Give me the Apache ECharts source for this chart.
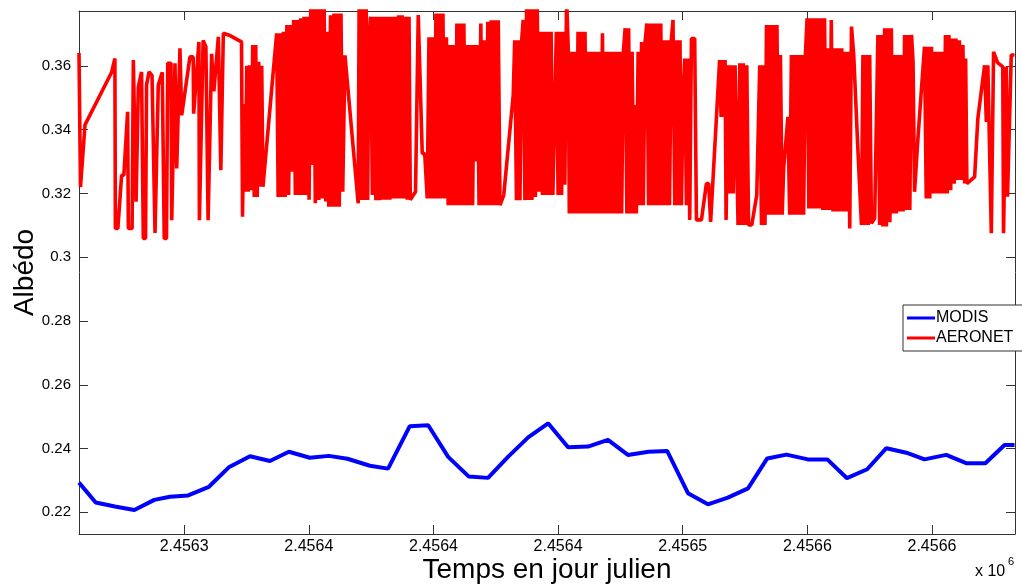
<!DOCTYPE html>
<html>
<head>
<meta charset="utf-8">
<script src="https://cdn.jsdelivr.net/npm/echarts@6/dist/echarts.min.js"></script>
<style>
html,body{margin:0;padding:0;background:#fff;}
#chart{width:1022px;height:586px;}
</style>
</head>
<body>
<div id="chart"></div>
<script>
// ---- Data: days are Julian day minus JD0 ----
const JD0 = 2456000;

const modisDays = [257.8,264.5,272.2,280.0,288.0,294.3,301.6,309.9,317.9,326.4,334.4,342.0,350.4,358.0,365.5,374.5,381.8,390.5,397.9,405.9,414.2,421.9,429.9,438.0,446.0,454.0,462.0,470.0,478.0,486.3,493.8,502.1,510.1,518.1,526.2,533.9,541.6,550.2,558.0,565.9,574.0,581.7,589.7,597.0,605.7,613.7,621.4,629.1,633.1];
const modisAlbedo = [0.2293,0.2231,0.2218,0.2207,0.2239,0.2249,0.2253,0.2280,0.2341,0.2376,0.2361,0.2390,0.2371,0.2377,0.2368,0.2346,0.2337,0.2470,0.2473,0.2374,0.2312,0.2308,0.2374,0.2435,0.2479,0.2404,0.2406,0.2427,0.2380,0.2390,0.2392,0.2260,0.2225,0.2246,0.2275,0.2369,0.2381,0.2366,0.2366,0.2307,0.2335,0.2401,0.2387,0.2366,0.2380,0.2354,0.2354,0.2411,0.2411];

const aeronetDays = [
257.8,258.4,260.2,270.9,272.2,272.4,273.4,274.9,275.8,277.3,277.6,279.1,279.6,280.7,281.6,282.9,283.6,284.5,284.9,285.9,287.1,288.3,289.1,289.6,291.2,292.0,292.9,293.4,294.7,295.0,296.3,297.0,298.3,299.0,302.3,303.6,303.8,305.9,306.1,307.6,308.7,309.6,311.0,311.9,313.7,314.7,315.7,318.4,323.0,
323.4,324.0,324.5,325.1,325.7,326.3,326.9,327.5,328.1,328.7,329.3,329.9,330.5,331.1,331.6,
337.1,337.7,338.4,339.1,339.8,340.5,341.2,341.9,342.6,343.2,343.9,344.6,345.3,346.0,346.7,347.4,348.1,348.8,349.5,350.1,350.8,351.4,352.0,352.6,353.3,354.0,354.7,355.4,356.1,356.8,357.3,358.0,358.7,359.4,360.1,360.8,361.5,362.2,362.9,363.6,364.5,
369.8,370.2,370.9,371.6,372.3,373.0,373.6,374.1,374.8,375.5,376.2,376.9,377.6,378.3,379.0,379.7,380.4,381.1,381.8,382.5,383.2,383.9,384.6,385.3,386.0,386.7,387.4,388.1,388.8,389.5,390.2,390.7,392.8,393.9,395.5,396.5,397.5,
398.2,398.9,399.6,400.3,401.0,401.7,402.4,403.1,403.8,404.5,405.2,405.9,406.6,407.3,408.0,408.7,409.4,410.1,410.8,411.5,412.2,412.9,413.6,414.3,415.0,415.7,416.4,417.1,417.6,418.3,419.0,419.7,420.4,421.1,421.8,422.5,423.2,423.9,424.6,425.3,426.0,426.7,427.3,428.2,432.0,432.6,
433.3,434.0,434.7,435.4,436.0,436.7,437.4,438.1,438.8,439.5,440.2,440.9,441.6,442.3,443.0,443.7,444.4,445.1,445.8,446.5,447.2,447.9,448.6,449.3,450.0,450.7,451.4,452.1,452.7,453.4,454.1,454.5,
455.2,455.9,456.6,457.3,458.0,458.7,459.4,460.1,460.8,461.5,462.2,462.9,463.6,464.3,465.0,465.7,466.4,467.1,467.8,468.5,469.2,469.9,470.6,471.3,472.0,472.7,473.4,474.1,474.8,475.5,476.2,476.9,477.6,478.3,479.0,479.7,480.4,480.8,481.4,
482.1,482.8,483.5,484.2,484.9,485.6,486.3,487.0,487.7,488.4,489.1,489.8,490.5,491.2,491.9,492.6,493.3,494.0,494.7,495.4,496.1,496.8,497.5,498.2,498.9,499.5,500.1,500.8,501.5,502.2,502.8,503.5,504.1,504.8,505.5,507.5,509.5,510.4,511.2,
514.8,515.4,516.0,516.6,517.0,517.4,518.2,518.9,519.6,520.3,521.0,522.2,522.9,523.6,524.3,525.0,525.7,526.4,527.7,529.7,530.9,
531.6,532.3,533.0,533.6,534.3,535.0,535.7,536.4,537.1,537.8,538.5,539.2,539.9,540.5,542.2,542.9,543.6,544.3,545.0,545.7,546.4,547.1,547.8,548.5,549.2,549.9,550.6,551.3,552.0,552.7,553.4,554.1,554.8,555.5,556.2,556.9,557.6,558.3,559.0,559.6,560.3,561.0,561.7,562.4,563.1,563.8,564.5,565.2,565.9,566.4,567.0,567.7,
568.6,570.2,571.7,572.3,573.0,573.7,574.4,575.0,575.7,577.0,578.3,579.0,579.7,580.3,581.0,581.7,582.4,583.1,583.7,584.3,585.0,585.7,586.3,587.0,587.7,588.4,589.0,589.7,590.4,591.1,591.8,592.4,593.0,594.4,597.0,
597.7,598.4,599.1,599.8,600.5,601.2,601.9,602.6,603.3,604.0,604.7,605.4,606.1,606.8,607.5,608.2,608.9,609.6,610.3,611.0,611.7,612.4,613.1,613.5,614.0,617.1,618.4,621.1,621.8,622.4,623.8,624.7,626.3,628.4,628.7,629.8,630.3,631.8,633.1];
const aeronetAlbedo = [
0.3640,0.3220,0.3415,0.3580,0.3623,0.3090,0.3090,0.3257,0.3257,0.3456,0.3090,0.3090,0.3618,0.3174,0.3534,0.3581,0.3059,0.3059,0.3540,0.3581,0.3570,0.3076,0.3076,0.3540,0.3580,0.3059,0.3059,0.3608,0.3608,0.3116,0.3608,0.3278,0.3655,0.3445,0.3628,0.3628,0.3450,0.3675,0.3116,0.3680,0.3660,0.3116,0.3638,0.3520,0.3691,0.3273,0.3702,0.3695,0.3675,
0.3127,0.3480,0.3205,0.3600,0.3205,0.3602,0.3210,0.3665,0.3189,0.3665,0.3189,0.3613,0.3221,0.3600,0.3221,
0.3702,0.3189,0.3702,0.3189,0.3707,0.3189,0.3728,0.3195,0.3728,0.3268,0.3744,0.3195,0.3744,0.3195,0.3749,0.3195,0.3754,0.3195,0.3754,0.3180,0.3820,0.3289,0.3820,0.3169,0.3820,0.3179,0.3820,0.3184,0.3820,0.3175,0.3707,0.3158,0.3759,0.3158,0.3764,0.3158,0.3764,0.3158,0.3764,0.3205,0.3633,
0.3169,0.3820,0.3179,0.3820,0.3179,0.3820,0.3179,0.3680,0.3754,0.3195,0.3754,0.3179,0.3754,0.3179,0.3754,0.3180,0.3754,0.3180,0.3754,0.3180,0.3754,0.3184,0.3754,0.3184,0.3759,0.3184,0.3759,0.3184,0.3754,0.3180,0.3754,0.3180,0.3205,0.3759,0.3325,0.3325,0.3184,
0.3690,0.3184,0.3690,0.3184,0.3764,0.3184,0.3764,0.3184,0.3764,0.3184,0.3690,0.3163,0.3665,0.3163,0.3665,0.3163,0.3733,0.3163,0.3733,0.3163,0.3733,0.3163,0.3665,0.3163,0.3665,0.3163,0.3665,0.3300,0.3665,0.3163,0.3733,0.3163,0.3680,0.3163,0.3738,0.3163,0.3743,0.3163,0.3743,0.3163,0.3743,0.3163,0.3169,0.3195,0.3508,0.3680,
0.3179,0.3680,0.3179,0.3680,0.3744,0.3179,0.3820,0.3179,0.3820,0.3179,0.3820,0.3189,0.3820,0.3205,0.3707,0.3195,0.3707,0.3195,0.3707,0.3195,0.3707,0.3195,0.3189,0.3707,0.3195,0.3707,0.3195,0.3707,0.3227,0.3820,0.3644,0.3137,
0.3644,0.3137,0.3644,0.3137,0.3707,0.3137,0.3707,0.3137,0.3707,0.3137,0.3644,0.3137,0.3644,0.3137,0.3644,0.3137,0.3644,0.3137,0.3702,0.3137,0.3644,0.3137,0.3644,0.3137,0.3644,0.3137,0.3644,0.3137,0.3644,0.3137,0.3644,0.3718,0.3137,0.3718,0.3137,0.3644,0.3137,0.3477,0.3137,
0.3644,0.3163,0.3675,0.3163,0.3675,0.3733,0.3163,0.3733,0.3163,0.3733,0.3163,0.3733,0.3163,0.3733,0.3163,0.3680,0.3163,0.3680,0.3163,0.3680,0.3744,0.3163,0.3680,0.3163,0.3680,0.3163,0.3498,0.3623,0.3163,0.3623,0.3117,0.3686,0.3686,0.3686,0.3117,0.3117,0.3231,0.3231,0.3111,
0.3618,0.3440,0.3618,0.3440,0.3618,0.3117,0.3602,0.3200,0.3602,0.3200,0.3602,0.3101,0.3608,0.3101,0.3608,0.3101,0.3602,0.3101,0.3101,0.3195,0.3602,
0.3101,0.3602,0.3101,0.3728,0.3133,0.3728,0.3133,0.3728,0.3133,0.3728,0.3133,0.3634,0.3133,0.3280,0.3440,0.3133,0.3634,0.3133,0.3634,0.3133,0.3634,0.3133,0.3634,0.3133,0.3634,0.3749,0.3153,0.3749,0.3153,0.3749,0.3153,0.3749,0.3153,0.3749,0.3148,0.3749,0.3148,0.3655,0.3148,0.3744,0.3143,0.3655,0.3143,0.3655,0.3143,0.3655,0.3143,0.3644,0.3143,0.3644,0.3090,0.3723,
0.3634,0.3350,0.3101,0.3634,0.3101,0.3634,0.3101,0.3634,0.3106,0.3122,0.3697,0.3101,0.3697,0.3096,0.3718,0.3096,0.3718,0.3110,0.3718,0.3137,0.3634,0.3137,0.3634,0.3143,0.3634,0.3143,0.3697,0.3148,0.3697,0.3148,0.3697,0.3613,0.3205,0.3377,0.3660,
0.3184,0.3660,0.3184,0.3660,0.3200,0.3644,0.3200,0.3644,0.3200,0.3644,0.3200,0.3697,0.3200,0.3697,0.3210,0.3686,0.3230,0.3686,0.3242,0.3680,0.3242,0.3665,0.3231,0.3623,0.3231,0.3252,0.3435,0.3602,0.3424,0.3602,0.3075,0.3644,0.3610,0.3597,0.3075,0.3597,0.3190,0.3634,0.3634];

const xTickDays = [300,350,400,450,500,550,600];
const xTickLabels = ['2.4563','2.4564','2.4564','2.4564','2.4565','2.4566','2.4566'];
const yTickValues = [0.22,0.24,0.26,0.28,0.30,0.32,0.34,0.36];

const xMinDay = 257.8, xMaxDay = 633.3;
const yMin = 0.2132, yMax = 0.3772;

const FONT = 'Liberation Sans, Arial, Helvetica, sans-serif';
const AX = '#333333';

const xTickValues = xTickDays.map(d => JD0 + d);
const toSeries = (days, vals) => days.map((d, i) => [JD0 + d, vals[i]]);

const chart = echarts.init(document.getElementById('chart'), null, {renderer: 'canvas'});

const baseX = {
  type: 'value', min: JD0 + xMinDay, max: JD0 + xMaxDay,
  axisLine: {show: true, onZero: false, lineStyle: {color: AX, width: 1}},
  axisTick: {show: true, inside: true, length: 9, customValues: xTickValues, lineStyle: {color: AX}},
  splitLine: {show: false}
};
const baseY = {
  type: 'value', min: yMin, max: yMax,
  axisLine: {show: true, onZero: false, lineStyle: {color: AX, width: 1}},
  axisTick: {show: true, inside: true, length: 9, customValues: yTickValues, lineStyle: {color: AX}},
  splitLine: {show: false}
};

chart.setOption({
  animation: false,
  backgroundColor: '#ffffff',
  textStyle: {fontFamily: FONT},
  grid: {left: 79, right: 7, top: 11, bottom: 52, containLabel: false, outerBoundsMode: 'none'},
  xAxis: [
    Object.assign({}, baseX, {
      position: 'bottom',
      name: 'Temps en jour julien', nameLocation: 'middle', nameGap: 22, nameMoveOverlap: false,
      nameTextStyle: {fontSize: 28, color: '#000', fontFamily: FONT, verticalAlign: 'top'},
      axisLabel: {
        show: true, customValues: xTickValues, margin: 5,
        fontSize: 16, color: '#000', fontFamily: FONT,
        formatter: function (v) {
          const i = xTickValues.findIndex(t => Math.abs(t - v) < 1e-6);
          return i >= 0 ? xTickLabels[i] : '';
        }
      }
    }),
    Object.assign({}, baseX, {position: 'top', axisLabel: {show: false}})
  ],
  yAxis: [
    Object.assign({}, baseY, {
      position: 'left',
      name: 'Albédo', nameLocation: 'middle', nameGap: 40, nameRotate: 90, nameMoveOverlap: false,
      nameTextStyle: {fontSize: 28, color: '#000', fontFamily: FONT},
      axisLabel: {
        show: true, customValues: yTickValues, margin: 8,
        fontSize: 15, color: '#000', fontFamily: FONT,
        formatter: function (v) { return String(Math.round(v * 100) / 100); }
      }
    }),
    Object.assign({}, baseY, {position: 'right', axisLabel: {show: false}})
  ],
  legend: {
    show: true, orient: 'vertical', left: 903, top: 305,
    data: ['MODIS', 'AERONET'],
    icon: 'rect', itemWidth: 28, itemHeight: 3, itemGap: 4,
    padding: [5, 20, 5, 4],
    backgroundColor: '#fff', borderColor: '#333', borderWidth: 1,
    textStyle: {fontSize: 16, color: '#000', fontFamily: FONT, padding: [0, 0, 0, -4]}
  },
  graphic: [
    {type: 'text', left: 975, top: 564, style: {text: 'x 10', fontSize: 16, fontFamily: FONT, fill: '#000'}},
    {type: 'text', left: 1008, top: 556, style: {text: '6', fontSize: 11, fontFamily: FONT, fill: '#000'}}
  ],
  series: [
    {
      name: 'MODIS', type: 'line', xAxisIndex: 0, yAxisIndex: 0,
      data: toSeries(modisDays, modisAlbedo), showSymbol: false, symbol: 'none',
      lineStyle: {color: '#0000ff', width: 4}, itemStyle: {color: '#0000ff'}, clip: true
    },
    {
      name: 'AERONET', type: 'line', xAxisIndex: 0, yAxisIndex: 0,
      data: toSeries(aeronetDays, aeronetAlbedo), showSymbol: false, symbol: 'none',
      lineStyle: {color: '#ff0000', width: 3.6}, itemStyle: {color: '#ff0000'}, clip: true
    }
  ]
});
</script>
</body>
</html>
